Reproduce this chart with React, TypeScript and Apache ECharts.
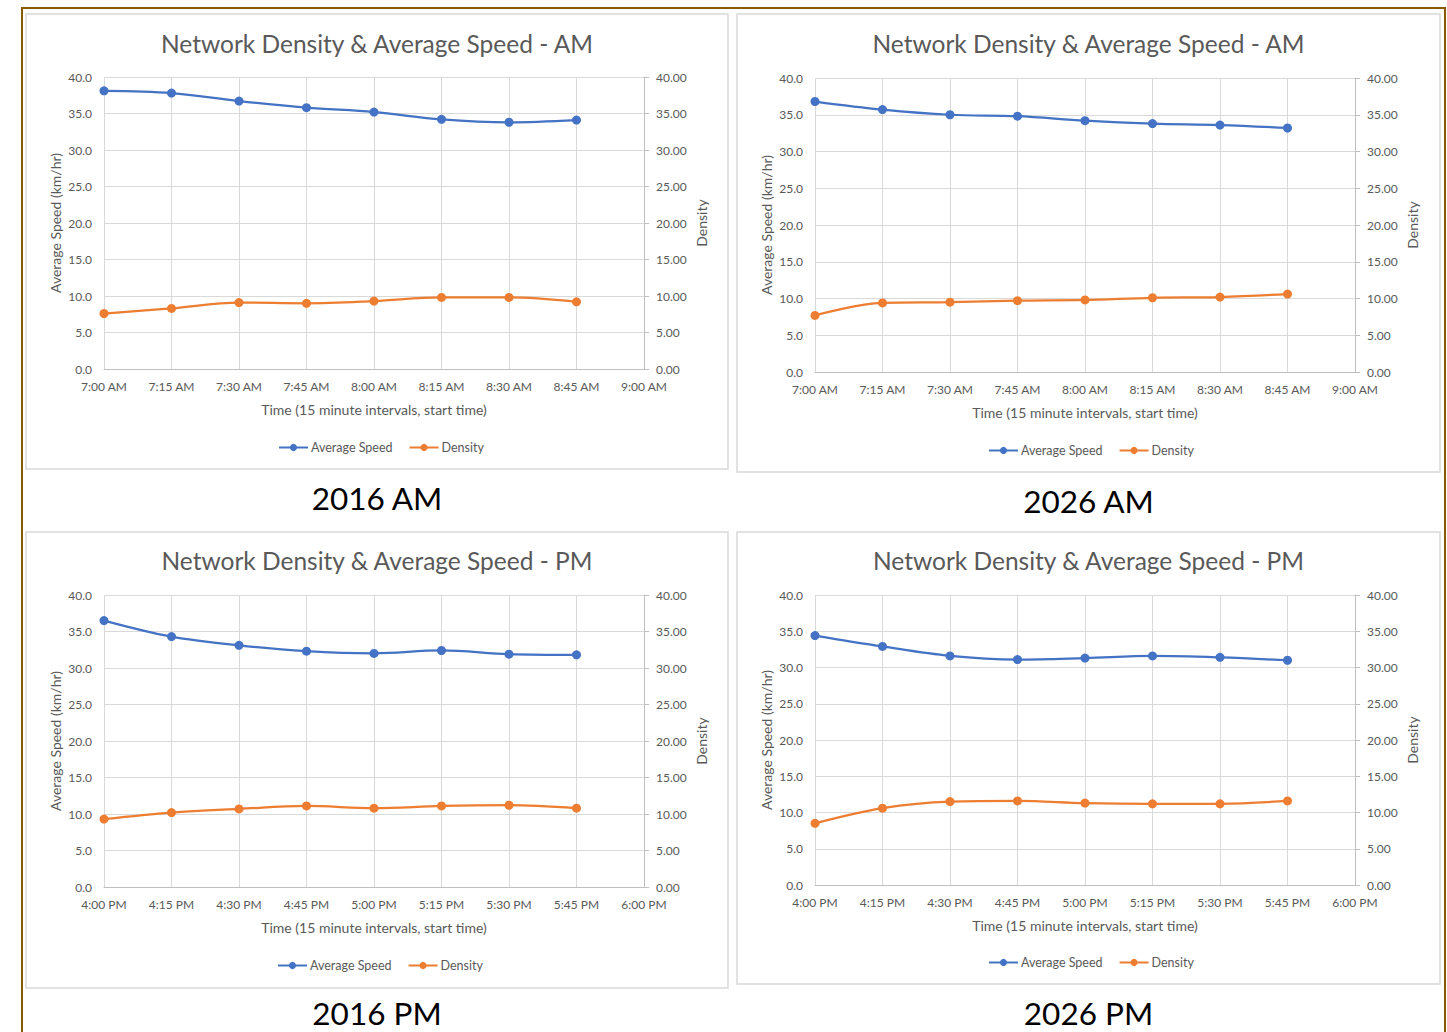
import React, { useEffect, useRef } from 'react';
import * as echarts from 'echarts';

// ---------- data ----------
const amTimes = ['7:00 AM', '7:15 AM', '7:30 AM', '7:45 AM', '8:00 AM', '8:15 AM', '8:30 AM', '8:45 AM', '9:00 AM'];
const pmTimes = ['4:00 PM', '4:15 PM', '4:30 PM', '4:45 PM', '5:00 PM', '5:15 PM', '5:30 PM', '5:45 PM', '6:00 PM'];

const speed2016AM = [38.1, 37.8, 36.7, 35.8, 35.2, 34.2, 33.8, 34.1];
const density2016AM = [7.6, 8.3, 9.1, 9.0, 9.3, 9.8, 9.8, 9.2];

const speed2026AM = [36.8, 35.7, 35.0, 34.8, 34.2, 33.8, 33.6, 33.2];
const density2026AM = [7.7, 9.4, 9.5, 9.7, 9.8, 10.1, 10.2, 10.6];

const speed2016PM = [36.5, 34.3, 33.1, 32.3, 32.0, 32.4, 31.9, 31.8];
const density2016PM = [9.3, 10.2, 10.7, 11.1, 10.8, 11.1, 11.2, 10.8];

const speed2026PM = [34.4, 32.9, 31.6, 31.1, 31.3, 31.6, 31.4, 31.0];
const density2026PM = [8.5, 10.6, 11.5, 11.6, 11.3, 11.2, 11.2, 11.6];

const titleAM = 'Network Density & Average Speed - AM';
const titlePM = 'Network Density & Average Speed - PM';
const captions = ['2016 AM', '2026 AM', '2016 PM', '2026 PM'];
const seriesNames = ['Average Speed', 'Density'];
const xAxisName = 'Time (15 minute intervals, start time)';
const leftAxisName = 'Average Speed (km/hr)';
const rightAxisName = 'Density';

// ---------- layout / style ----------
const FONT = "Lato, 'Open Sans', sans-serif";
const TXT = '#595959';
const GRIDC = '#d9d9d9';
const AXISC = '#bfbfbf';
const BLUE = '#4472C4';
const ORANGE = '#ED7D31';

const panels = [
  { title: titleAM, times: amTimes, speed: speed2016AM, density: density2016AM, caption: captions[0],
    box: { x: 26, y: 14, w: 702, h: 455 }, grid: { left: 104, top: 77, width: 540, height: 292 },
    titleY: 43, captionY: 498, legend: { left: 278, top: 441 } },
  { title: titleAM, times: amTimes, speed: speed2026AM, density: density2026AM, caption: captions[1],
    box: { x: 737, y: 14, w: 703, h: 458 }, grid: { left: 815, top: 78, width: 540, height: 294 },
    titleY: 43, captionY: 501, legend: { left: 988, top: 444 } },
  { title: titlePM, times: pmTimes, speed: speed2016PM, density: density2016PM, caption: captions[2],
    box: { x: 26, y: 532, w: 702, h: 456 }, grid: { left: 104, top: 595, width: 540, height: 292 },
    titleY: 560, captionY: 1013, legend: { left: 277, top: 959 } },
  { title: titlePM, times: pmTimes, speed: speed2026PM, density: density2026PM, caption: captions[3],
    box: { x: 737, y: 532, w: 703, h: 452 }, grid: { left: 815, top: 595, width: 540, height: 290 },
    titleY: 560, captionY: 1013, legend: { left: 988, top: 956 } },
];

function buildOption() {
  const grid: any[] = [];
  const xAxis: any[] = [];
  const yAxis: any[] = [];
  const series: any[] = [];
  const legend: any[] = [];
  const graphic: any[] = [];

  graphic.push({
    type: 'rect', z: -20, silent: true,
    shape: { x: 22, y: 8, width: 1423, height: 1100 },
    style: { fill: 'transparent', stroke: '#8a5a00', lineWidth: 2 },
  });

  panels.forEach((p, i) => {
    const cx = p.box.x + p.box.w / 2;
    grid.push({ ...p.grid, containLabel: false });
    graphic.push({
      type: 'rect', z: -10, silent: true,
      shape: { x: p.box.x, y: p.box.y, width: p.box.w, height: p.box.h },
      style: { fill: 'transparent', stroke: GRIDC, lineWidth: 1.5 },
    });
    graphic.push({
      type: 'text', silent: true,
      style: { text: p.title, x: cx, y: p.titleY, textAlign: 'center', textVerticalAlign: 'middle',
        font: `24.5px ${FONT}`, fill: TXT },
    });
    graphic.push({
      type: 'text', silent: true,
      style: { text: p.caption, x: cx, y: p.captionY, textAlign: 'center', textVerticalAlign: 'middle',
        font: `31.5px ${FONT}`, fill: '#000000' },
    });

    xAxis.push({
      type: 'category', gridIndex: i, data: p.times, boundaryGap: false,
      axisLine: { show: true, lineStyle: { color: AXISC, width: 1 } },
      axisTick: { show: false },
      axisLabel: { color: TXT, fontSize: 12, fontFamily: FONT, margin: 11, interval: 0 },
      splitLine: { show: true, lineStyle: { color: GRIDC, width: 1 } },
      name: xAxisName, nameLocation: 'middle', nameGap: 33,
      nameTextStyle: { color: TXT, fontSize: 14, fontFamily: FONT },
    });
    yAxis.push({
      type: 'value', gridIndex: i, min: 0, max: 40, interval: 5, position: 'left',
      axisLine: { show: false },
      axisTick: { show: false },
      axisLabel: { color: TXT, fontSize: 12, fontFamily: FONT, margin: 12, formatter: (v: number) => v.toFixed(1) },
      splitLine: { show: true, lineStyle: { color: GRIDC, width: 1 } },
      name: leftAxisName, nameLocation: 'middle', nameGap: 42, nameRotate: 90,
      nameTextStyle: { color: TXT, fontSize: 14, fontFamily: FONT },
    });
    yAxis.push({
      type: 'value', gridIndex: i, min: 0, max: 40, interval: 5, position: 'right',
      axisLine: { show: true, lineStyle: { color: AXISC, width: 1 } },
      axisTick: { show: true, length: 5, lineStyle: { color: AXISC } },
      axisLabel: { color: TXT, fontSize: 12, fontFamily: FONT, margin: 12, formatter: (v: number) => v.toFixed(2) },
      splitLine: { show: false },
      name: rightAxisName, nameLocation: 'middle', nameGap: 50, nameRotate: 90,
      nameTextStyle: { color: TXT, fontSize: 14, fontFamily: FONT },
    });

    series.push({
      type: 'line', name: seriesNames[0], xAxisIndex: i, yAxisIndex: 2 * i, data: p.speed,
      smooth: 0.35, symbol: 'circle', symbolSize: 9,
      lineStyle: { color: BLUE, width: 2.25 }, itemStyle: { color: BLUE },
    });
    series.push({
      type: 'line', name: seriesNames[1], xAxisIndex: i, yAxisIndex: 2 * i + 1, data: p.density,
      smooth: 0.35, symbol: 'circle', symbolSize: 9,
      lineStyle: { color: ORANGE, width: 2.25 }, itemStyle: { color: ORANGE },
    });

    legend.push({
      data: seriesNames, left: p.legend.left, top: p.legend.top, padding: 0,
      itemWidth: 29, itemHeight: 9, itemGap: 16, selectedMode: false,
      textStyle: { color: TXT, fontSize: 12.5, fontFamily: FONT, padding: [0, 0, 0, -2] },
    });
  });

  return {
    animation: false,
    backgroundColor: '#ffffff',
    textStyle: { fontFamily: FONT },
    grid, xAxis, yAxis, series, legend, graphic,
  };
}

export default function App() {
  const ref = useRef<HTMLDivElement>(null);
  useEffect(() => {
    if (!ref.current) return;
    const chart = echarts.init(ref.current, undefined, { renderer: 'svg' });
    chart.setOption(buildOption() as any);
    return () => chart.dispose();
  }, []);
  return (
    <div
      ref={ref}
      style={{ position: 'absolute', left: 0, top: 0, width: 1447, height: 1032, background: '#ffffff' }}
    />
  );
}
